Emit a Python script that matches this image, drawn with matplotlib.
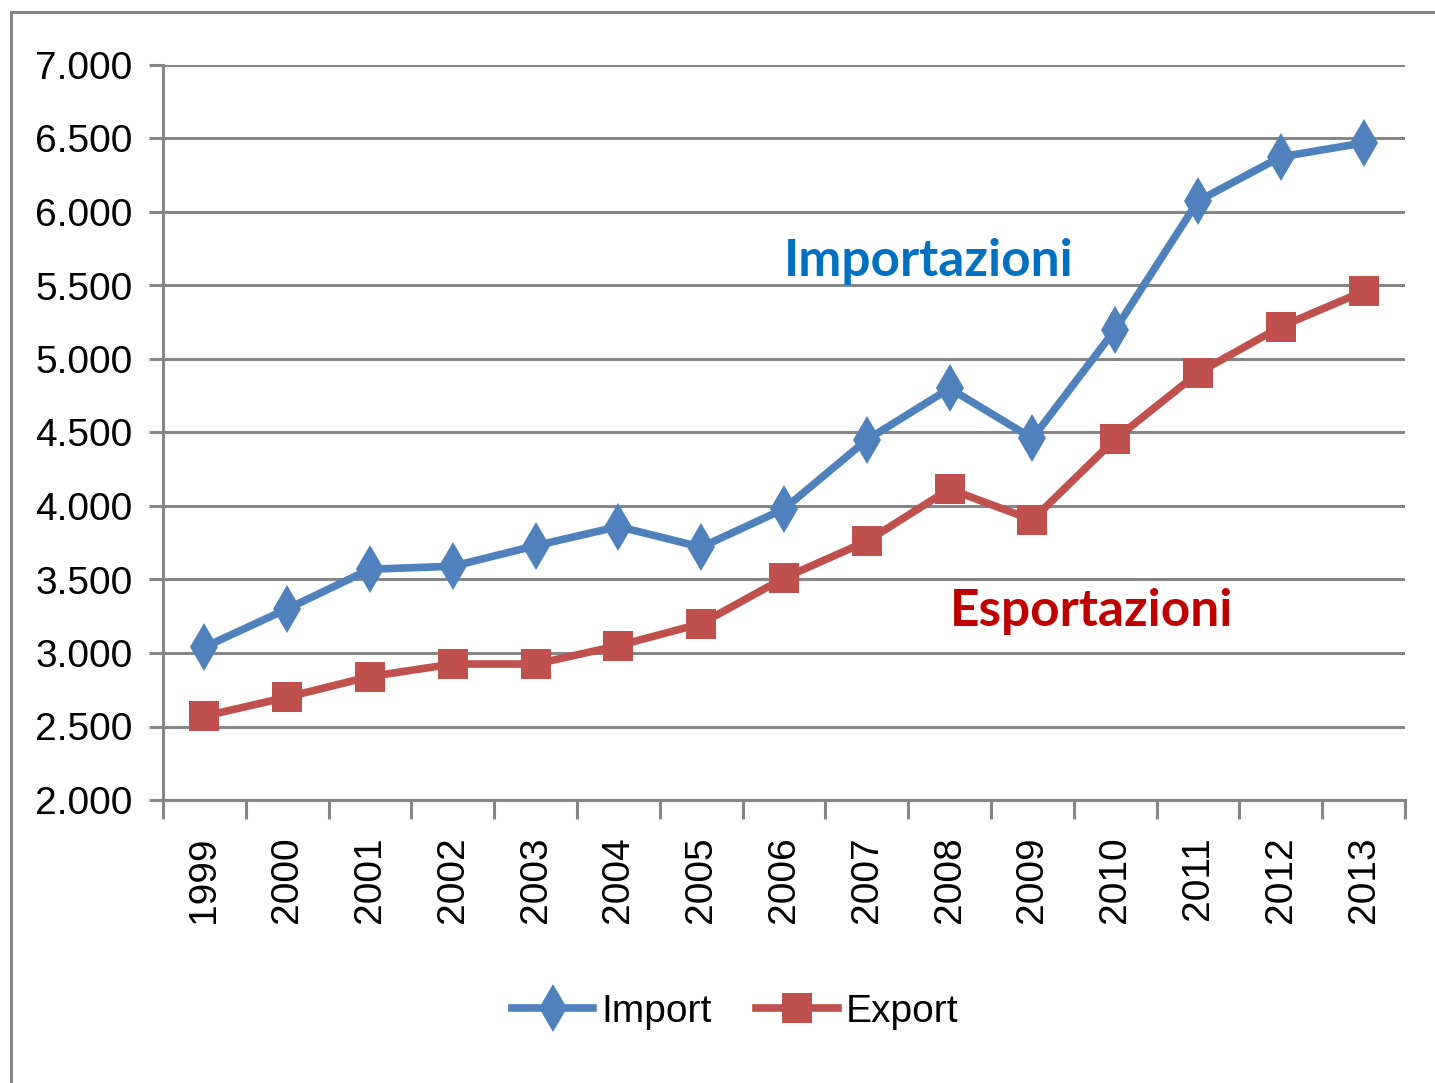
import matplotlib
matplotlib.use('Agg')
import matplotlib.pyplot as plt
from matplotlib.lines import Line2D
from matplotlib.ticker import FuncFormatter, FixedLocator, NullFormatter

years = ['1999', '2000', '2001', '2002', '2003', '2004', '2005', '2006',
         '2007', '2008', '2009', '2010', '2011', '2012', '2013']
import_vals = [3040, 3300, 3570, 3590, 3730, 3860, 3720, 3980,
               4450, 4800, 4460, 5200, 6075, 6375, 6470]
export_vals = [2570, 2700, 2840, 2925, 2925, 3050, 3200, 3510,
               3760, 4115, 3905, 4455, 4905, 5220, 5460]

GRAY = '#868686'
BLUE = '#4F81BD'
RED = '#C0504D'
FONT = ['Liberation Sans Narrow', 'DejaVu Sans Condensed', 'Liberation Sans']

fig = plt.figure(figsize=(14.35, 10.83), dpi=100)
ax = fig.add_axes([163 / 1435, 1 - 800 / 1083, 1242 / 1435, 735 / 1083])

x = list(range(len(years)))
ax.plot(x, import_vals, color=BLUE, lw=5.5, marker='d', ms=24, mew=0,
        label='Import', zorder=3)
ax.plot(x, export_vals, color=RED, lw=5.5, marker='s', ms=21, mew=0,
        label='Export', zorder=3)

ax.set_xlim(-0.5, len(years) - 0.5)
ax.set_ylim(2000, 7000)
ax.set_yticks(range(2000, 7001, 500))
ax.yaxis.set_major_formatter(FuncFormatter(lambda v, p: f'{int(v):,}'.replace(',', '.')))
ax.yaxis.grid(True, color=GRAY, lw=2.2)
ax.set_axisbelow(True)

# ticks between categories, labels centred on categories
ax.xaxis.set_major_locator(FixedLocator([i - 0.5 for i in range(len(years) + 1)]))
ax.xaxis.set_major_formatter(NullFormatter())
ax.xaxis.set_minor_locator(FixedLocator(x))
ax.set_xticklabels(years, minor=True, rotation=90, fontsize=28,
                   family=FONT, va='top')
ax.tick_params(axis='x', which='major', length=14, width=2.2, color=GRAY)
ax.tick_params(axis='x', which='minor', length=0, pad=26)
ax.tick_params(axis='y', length=10, width=2.2, color=GRAY, labelsize=28, pad=12)
for lab in ax.get_yticklabels():
    lab.set_family(FONT)

for s in ['top', 'right']:
    ax.spines[s].set_visible(False)
for s in ['left', 'bottom']:
    ax.spines[s].set_color(GRAY)
    ax.spines[s].set_linewidth(2.2)

ax.text(7.0, 5660, 'Importazioni', color='#0070C0', fontsize=37,
        fontweight='bold', family='Lato', ha='left', va='center')
ax.text(9.0, 3280, 'Esportazioni', color='#C00000', fontsize=37,
        fontweight='bold', family='Lato', ha='left', va='center')

leg = fig.legend(loc='center', bbox_to_anchor=(735 / 1435, 1 - 1012 / 1083),
                 ncol=2, frameon=False, prop={'family': FONT, 'size': 28},
                 handlelength=2.1, columnspacing=1.15, handletextpad=0.2)

# outer chart border (top and left only visible)
fig.add_artist(Line2D([11 / 1435, 1.0], [1 - 12 / 1083, 1 - 12 / 1083],
                      color=GRAY, lw=2.2, transform=fig.transFigure))
fig.add_artist(Line2D([11 / 1435, 11 / 1435], [0.0, 1 - 12 / 1083],
                      color=GRAY, lw=2.2, transform=fig.transFigure))

fig.savefig('out.png', dpi=100, facecolor='white')
